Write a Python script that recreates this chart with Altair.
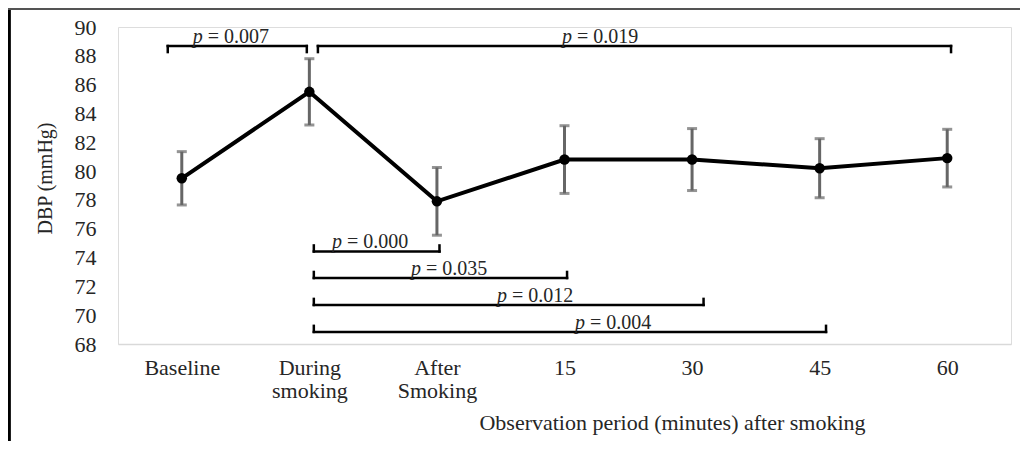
import json
import altair as alt
import pandas as pd

# ---- data ----
categories = ["Baseline", "During smoking", "After Smoking", "15", "30", "45", "60"]
means = [79.5, 85.5, 77.9, 80.8, 80.8, 80.2, 80.9]
sds = [1.85, 2.3, 2.35, 2.35, 2.15, 2.05, 2.0]
y_ticks = [68, 70, 72, 74, 76, 78, 80, 82, 84, 86, 88, 90]

# significance brackets (x in category-index units, level in mmHg)
br_label = ["0.007", "0.019", "0.000", "0.035", "0.012", "0.004"]
br_start = [-0.11, 1.067, 1.035, 1.035, 1.035, 1.035]
br_end = [0.98, 6.03, 2.02, 3.02, 4.09, 5.05]
br_level = [88.68, 88.68, 74.42, 72.58, 70.71, 68.84]
br_side = ["top", "top", "bottom", "bottom", "bottom", "bottom"]
br_text_x = [0.384, 3.278, 1.475, 2.094, 2.769, 3.380]

FONT = "Liberation Serif"
TICK_LEN = 0.42  # bracket end-tick length in mmHg units
PFS = 20  # p-label font size

pts = pd.DataFrame({
    "idx": list(range(len(categories))),
    "cat": categories,
    "mean": means,
    "lo": [m - s for m, s in zip(means, sds)],
    "hi": [m + s for m, s in zip(means, sds)],
})

seg_rows = []
for s, e, lv, side in zip(br_start, br_end, br_level, br_side):
    d = -TICK_LEN if side == "top" else TICK_LEN
    seg_rows.append({"x1": s, "x2": e, "y1": lv, "y2": lv})
    seg_rows.append({"x1": s, "x2": s, "y1": lv, "y2": lv + d})
    seg_rows.append({"x1": e, "x2": e, "y1": lv, "y2": lv + d})
segs = pd.DataFrame(seg_rows)

labs = pd.DataFrame({
    "tx": br_text_x,
    "ty": br_level,
    "rest": ["= " + v for v in br_label],
})

label_expr = "split(" + json.dumps(categories) + "[datum.value], ' ')"

x_axis = alt.Axis(
    values=list(range(len(categories))),
    labelExpr=label_expr,
    title="Observation period (minutes) after smoking",
    grid=False, ticks=False,
    domainColor="#d9d9d9", domainWidth=1.5,
    labelFont=FONT, labelFontSize=22, labelColor="#262626",
    labelPadding=13, labelLineHeight=23, labelBaseline="top",
    titleFont=FONT, titleFontSize=22, titleFontWeight="normal", titleColor="#262626",
    titleX=554, titleY=85, titleAlign="center", titleBaseline="alphabetic",
)
y_axis = alt.Axis(
    values=y_ticks,
    title="DBP (mmHg)",
    grid=False, ticks=False, domain=False,
    labelFont=FONT, labelFontSize=22, labelColor="#262626", labelPadding=22,
    titleFont=FONT, titleFontSize=20, titleFontWeight="normal", titleColor="#262626",
    titleX=-73, titleY=151, titleAlign="center", titleBaseline="middle", titleAngle=270,
)
x_scale = alt.Scale(domain=[-0.5, 6.5], nice=False, zero=False)
y_scale = alt.Scale(domain=[68, 90], nice=False, zero=False)


def X(f):
    return alt.X(f, type="quantitative", scale=x_scale, axis=x_axis)


def Y(f):
    return alt.Y(f, type="quantitative", scale=y_scale, axis=y_axis)


err = alt.Chart(pts).mark_rule(color="#666666", strokeWidth=3).encode(
    x=X("idx"), y=Y("lo"), y2="hi")
cap_lo = alt.Chart(pts).mark_tick(color="#666666", thickness=3, size=10, orient="horizontal").encode(
    x=X("idx"), y=Y("lo"))
cap_hi = alt.Chart(pts).mark_tick(color="#666666", thickness=3, size=10, orient="horizontal").encode(
    x=X("idx"), y=Y("hi"))
line = alt.Chart(pts).mark_line(color="#000000", strokeWidth=4).encode(
    x=X("idx"), y=Y("mean"))
dots = alt.Chart(pts).mark_circle(color="#000000", size=110, opacity=1).encode(
    x=X("idx"), y=Y("mean"))

brackets = alt.Chart(segs).mark_rule(color="#000000", strokeWidth=2.5, strokeCap="square").encode(
    x=X("x1"), x2="x2", y=Y("y1"), y2="y2")

half_w = round(PFS * 3.814 / 2)
p_w = round(PFS * 0.75)
p_txt = alt.Chart(labs).mark_text(
    text="p", font=FONT, fontSize=PFS, fontStyle="italic", align="left",
    baseline="alphabetic", dx=-half_w, dy=-3, color="#262626").encode(x=X("tx"), y=Y("ty"))
rest_txt = alt.Chart(labs).mark_text(
    font=FONT, fontSize=PFS, align="left", baseline="alphabetic",
    dx=-half_w + p_w, dy=-3, color="#262626").encode(x=X("tx"), y=Y("ty"), text="rest:N")

frame_left = alt.Chart(pts).mark_rule(color="#000000", strokeWidth=2.5).encode(
    x=alt.value(-109), y=alt.value(-18), y2=alt.value(414))
frame_top = alt.Chart(pts).mark_rule(color="#555555", strokeWidth=1.5).encode(
    x=alt.value(-110), x2=alt.value(902), y=alt.value(-18))

chart = alt.layer(
    frame_left, frame_top, err, cap_lo, cap_hi, line, dots, brackets, p_txt, rest_txt
).properties(
    width=893, height=317,
    autosize=alt.AutoSizeParams(type="none"),
    padding={"left": 110, "top": 19, "right": 9, "bottom": 97},
).configure_view(stroke=None).configure(background="#ffffff")

chart.save("out.html", embed_options={"renderer": "svg", "actions": False})
